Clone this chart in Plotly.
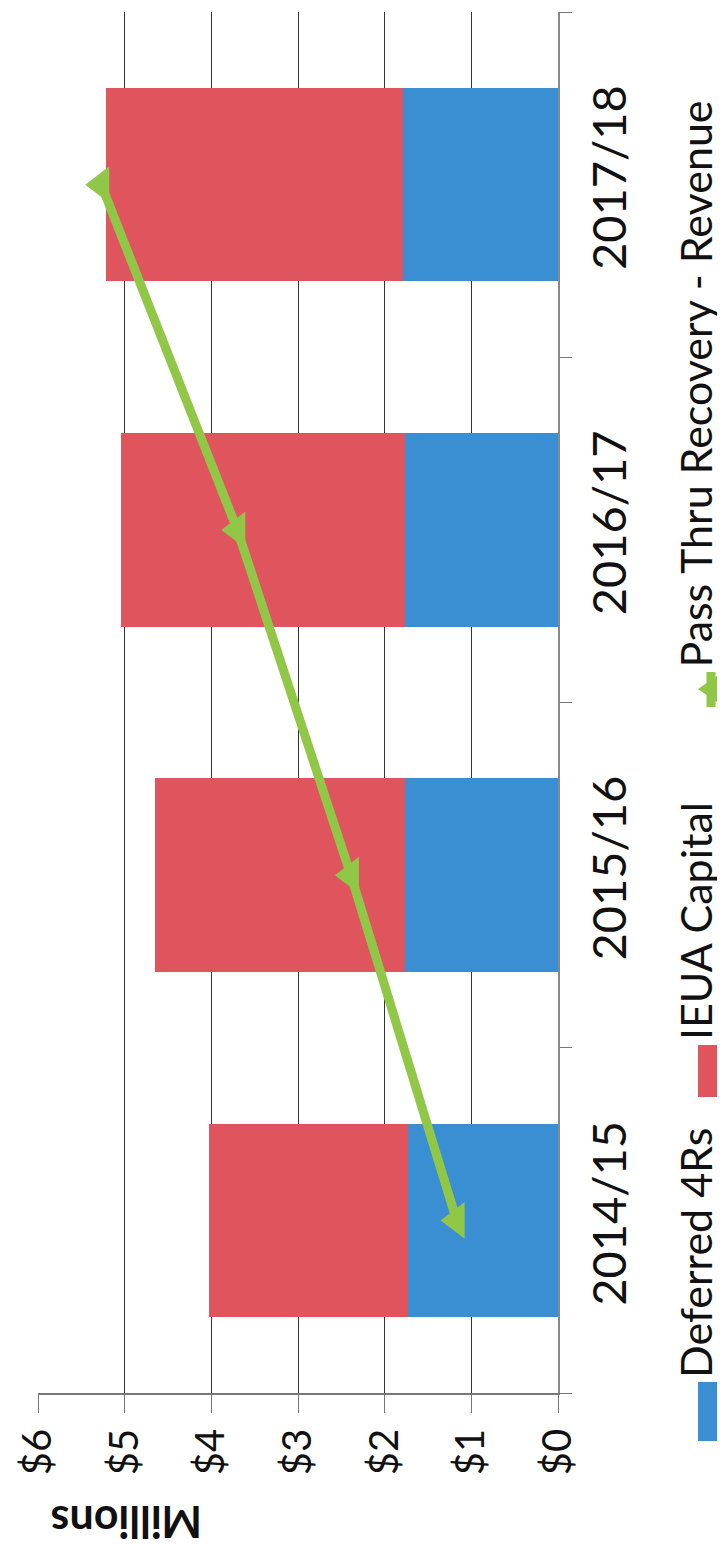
import plotly.graph_objects as go

# ---- data ----
categories = ["2014/15", "2015/16", "2016/17", "2017/18"]
deferred_4rs = [1.73, 1.76, 1.76, 1.79]
ieua_capital = [2.30, 2.89, 3.28, 3.43]
pass_thru = [1.17, 2.39, 3.70, 5.27]
tick_vals = [0, 1, 2, 3, 4, 5, 6]
tick_text = ["$0", "$1", "$2", "$3", "$4", "$5", "$6"]
series_names = ["Deferred 4Rs", "IEUA Capital", "Pass Thru Recovery - Revenue"]
axis_title = "Millions"

# ---- layout geometry ----
W, H = 725, 1545
L, R, T, B = 30, 175, 4, 160
PW = W - L - R
PH = H - T - B


def px(xp):
    return (xp - L) / PW


def py(yp):
    return (H - B - yp) / PH


BLUE = "#3A8ED2"
RED = "#E0545E"
GREEN = "#90C746"
FONT = "Lato"

fig = go.Figure()
fig.add_trace(go.Bar(y=categories, x=deferred_4rs, orientation="h", name=series_names[0],
                     marker=dict(color=BLUE, line=dict(width=0))))
fig.add_trace(go.Bar(y=categories, x=ieua_capital, orientation="h", name=series_names[1],
                     marker=dict(color=RED, line=dict(width=0))))
fig.add_trace(go.Scatter(y=categories, x=pass_thru, mode="lines+markers", name=series_names[2],
                         line=dict(color=GREEN, width=9),
                         marker=dict(symbol="triangle-left", size=32, color=GREEN)))

fig.update_layout(
    width=W, height=H,
    margin=dict(l=L, r=R, t=T, b=B, autoexpand=False),
    barmode="stack", bargap=0.44,
    showlegend=False,
    plot_bgcolor="white", paper_bgcolor="white",
    font=dict(family=FONT, color="#111"),
)
fig.update_xaxes(range=[6, 0], tickvals=tick_vals, ticktext=tick_text, tickangle=-90,
                 showgrid=True, gridcolor="#333", gridwidth=1.2,
                 showline=True, linecolor="#777", linewidth=1.5,
                 ticks="outside", ticklen=18, tickcolor="#777",
                 tickfont=dict(size=40, color="#111"), zeroline=False)
fig.update_yaxes(side="right", tickangle=-90, showgrid=False,
                 showline=True, linecolor="#888", linewidth=1.5,
                 ticks="outside", tickson="boundaries", ticklen=12, tickcolor="#777",
                 ticklabelstandoff=10,
                 tickfont=dict(size=47, color="#111"), range=[-0.5, 3.5])

annotations = [
    dict(text="<b>" + axis_title + "</b>", x=px(119), y=py(1515), xref="paper", yref="paper",
         showarrow=False, textangle=180, font=dict(size=43, color="#111"),
         xanchor="center", yanchor="middle"),
]
legend_starts = [1372, 1034, 662]
for name, ys in zip(series_names, legend_starts):
    annotations.append(dict(text=name, x=px(687), y=py(ys), xref="paper", yref="paper",
                            showarrow=False, textangle=-90, font=dict(size=43, color="#111"),
                            xanchor="center", yanchor="bottom"))
fig.update_layout(annotations=annotations)

shapes = [
    dict(type="rect", xref="paper", yref="paper", x0=px(690), x1=px(715), y0=py(1433), y1=py(1374),
         fillcolor=BLUE, line=dict(width=0)),
    dict(type="rect", xref="paper", yref="paper", x0=px(690), x1=px(715), y0=py(1089), y1=py(1037),
         fillcolor=RED, line=dict(width=0)),
    dict(type="line", xref="paper", yref="paper", x0=px(703), x1=px(703), y0=py(699), y1=py(664),
         line=dict(color=GREEN, width=9)),
    dict(type="path", xref="paper", yref="paper",
         path="M {},{} L {},{} L {},{} Z".format(px(690), py(681), px(710), py(667), px(710), py(695)),
         fillcolor=GREEN, line=dict(width=0)),
]
fig.update_layout(shapes=shapes)

fig.write_html("out.html")
